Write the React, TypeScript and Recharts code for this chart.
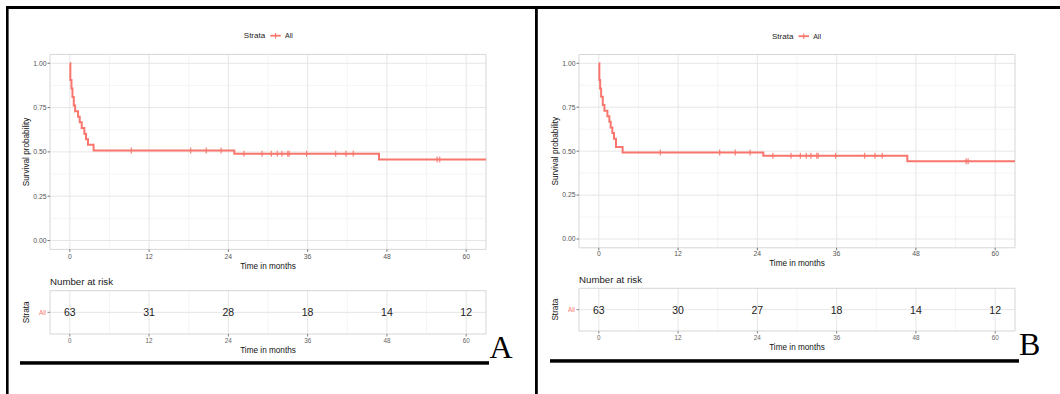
import React from 'react';
import { ComposedChart, Line, Scatter, XAxis, YAxis, CartesianGrid, ReferenceArea } from 'recharts';

const FONT = '"Liberation Sans", Arial, Helvetica, sans-serif';
const RED = '#F8766D';

// ---- shared tick labels ----
const timeTicks = [0, 12, 24, 36, 48, 60];
const timeMinor = [6, 18, 30, 42, 54];
const survTicks = [0, 0.25, 0.5, 0.75, 1];
const survMinor = [0.125, 0.375, 0.625, 0.875];
const strataLabels = ['All'];

// ---- panel A: Kaplan-Meier step function ----
const stepTimesA = [0, 0.08, 0.25, 0.4, 0.6, 0.8, 1.25, 1.5, 1.8, 2.2, 2.45, 2.75, 3.6, 24.9, 46.8];
const stepSurvA = [1, 0.905, 0.857, 0.81, 0.762, 0.73, 0.698, 0.667, 0.635, 0.603, 0.571, 0.54, 0.508, 0.49, 0.457];
const censorTimesA = [9.3, 18.3, 20.65, 22.9, 26.35, 29.1, 30.5, 31.4, 32.1, 33.0, 33.2, 35.85, 40.25, 41.8, 42.9, 55.6, 56.0];
const riskA = [63, 31, 28, 18, 14, 12];

// ---- panel B ----
const stepTimesB = [0, 0.08, 0.2, 0.35, 0.6, 0.85, 1.3, 1.6, 1.8, 2.05, 2.3, 2.6, 3.6, 24.9, 46.7];
const stepSurvB = [1, 0.905, 0.857, 0.81, 0.762, 0.73, 0.698, 0.667, 0.635, 0.603, 0.571, 0.524, 0.492, 0.474, 0.442];
const censorTimesB = [9.3, 18.3, 20.65, 22.9, 26.35, 29.1, 30.5, 31.4, 32.1, 33.0, 33.2, 35.85, 40.25, 41.8, 42.9, 55.6, 55.9];
const riskB = [63, 30, 27, 18, 14, 12];

const followUpEnd = 63;
const X_DOMAIN: [number, number] = [-3, 63];
const Y_DOMAIN: [number, number] = [-0.05, 1.05];

function buildSteps(times: number[], surv: number[]) {
  const pts = times.map((t, i) => ({ t, s: surv[i] }));
  pts.push({ t: followUpEnd, s: surv[surv.length - 1] });
  return pts;
}
function survAt(times: number[], surv: number[], t: number) {
  let s = surv[0];
  for (let i = 0; i < times.length; i++) if (times[i] <= t) s = surv[i];
  return s;
}
function buildCensor(ct: number[], times: number[], surv: number[]) {
  return ct.map((t) => ({ t, s: survAt(times, surv, t) }));
}
function buildRisk(r: number[]) {
  return timeTicks.map((t, i) => ({ t, y: 1, n: r[i] }));
}

const PlusShape = (props: any) => {
  const { cx, cy } = props;
  if (cx == null || cy == null) return null;
  return (
    <path
      d={`M${cx - 2.5},${cy}H${cx + 2.5}M${cx},${cy - 3}V${cy + 3}`}
      stroke={RED}
      strokeWidth={1.1}
      fill="none"
    />
  );
};

const RiskText = (props: any) => {
  const { cx, cy, payload } = props;
  return (
    <text x={cx} y={cy} textAnchor="middle" dominantBaseline="central" fontSize={10.5} fill="#1a1a1a" fontFamily={FONT}>
      {payload.n}
    </text>
  );
};

const yTitle = (text: string, dx: number) => (p: any) => {
  const vb = p.viewBox || {};
  const cx = vb.x + vb.width - dx;
  const cy = vb.y + vb.height / 2;
  return (
    <text x={cx} y={cy} transform={`rotate(-90 ${cx} ${cy})`} textAnchor="middle" dominantBaseline="central" fontSize={8.2} fill="#111" fontFamily={FONT}>
      {text}
    </text>
  );
};
const xTitle = (text: string, dy: number) => (p: any) => {
  const vb = p.viewBox || {};
  const cx = vb.x + vb.width / 2;
  const cy = vb.y + dy;
  return (
    <text x={cx} y={cy} textAnchor="middle" dominantBaseline="central" fontSize={8.2} fill="#111" fontFamily={FONT}>
      {text}
    </text>
  );
};

type SurvProps = {
  left: number; width: number; mLeft: number; mRight: number; mTop: number; mBottom: number;
  steps: { t: number; s: number }[]; censor: { t: number; s: number }[]; tickMargin: number; titleDy: number;
};

function SurvivalPlot(p: SurvProps) {
  const height = 280;
  return (
    <div style={{ position: 'absolute', left: p.left, top: 0 }}>
      <ComposedChart width={p.width} height={height} margin={{ left: p.mLeft, right: p.mRight, top: p.mTop, bottom: p.mBottom }}>
        <CartesianGrid verticalValues={timeMinor} horizontalValues={survMinor} stroke="#F3F3F3" strokeWidth={0.8} />
        <CartesianGrid verticalValues={timeTicks} horizontalValues={survTicks} stroke="#E6E6E6" strokeWidth={1} />
        <XAxis
          type="number" dataKey="t" domain={X_DOMAIN} ticks={timeTicks} allowDataOverflow
          axisLine={false} tickSize={2.5} tickMargin={p.tickMargin} height={20}
          tick={{ fontSize: 6.8, fill: '#555', fontFamily: FONT }} tickLine={{ stroke: '#777' }}
          label={{ content: xTitle('Time in months', p.titleDy) } as any}
        />
        <YAxis
          type="number" dataKey="s" domain={Y_DOMAIN} ticks={survTicks} allowDataOverflow
          axisLine={false} tickSize={2.5} tickMargin={1} width={30}
          tickFormatter={(v: number) => v.toFixed(2)}
          tick={{ fontSize: 6.8, fill: '#555', fontFamily: FONT }} tickLine={{ stroke: '#777' }}
          label={{ content: yTitle('Survival probability', 23) } as any}
        />
        <ReferenceArea x1={X_DOMAIN[0]} x2={X_DOMAIN[1]} y1={Y_DOMAIN[0]} y2={Y_DOMAIN[1]} fill="none" fillOpacity={0} stroke="#D6D6D6" strokeWidth={1} ifOverflow="visible" />
        <Line data={p.steps} dataKey="s" type="stepAfter" stroke={RED} strokeWidth={2} dot={false} activeDot={false} isAnimationActive={false} />
        <Scatter data={p.censor} dataKey="s" shape={<PlusShape />} isAnimationActive={false} />
      </ComposedChart>
    </div>
  );
}

type RiskProps = {
  left: number; width: number; mLeft: number; mRight: number; mTop: number; mBottom: number;
  data: { t: number; y: number; n: number }[]; tickMargin: number; titleDy: number;
};

function RiskTable(p: RiskProps) {
  const height = 95;
  return (
    <div style={{ position: 'absolute', left: p.left, top: 270 }}>
      <ComposedChart width={p.width} height={height} margin={{ left: p.mLeft, right: p.mRight, top: p.mTop, bottom: p.mBottom }}>
        <CartesianGrid verticalValues={timeMinor} horizontal={false} stroke="#F3F3F3" strokeWidth={0.8} />
        <CartesianGrid verticalValues={timeTicks} horizontalValues={[1]} stroke="#E6E6E6" strokeWidth={1} />
        <XAxis
          type="number" dataKey="t" domain={X_DOMAIN} ticks={timeTicks} allowDataOverflow
          axisLine={false} tickSize={2.5} tickMargin={p.tickMargin} height={24}
          tick={{ fontSize: 6.3, fill: '#666', fontFamily: FONT }} tickLine={{ stroke: '#888' }}
          label={{ content: xTitle('Time in months', p.titleDy) } as any}
        />
        <YAxis
          type="number" dataKey="y" domain={[0, 2]} ticks={[1]} allowDataOverflow
          axisLine={false} tickSize={2.5} tickMargin={1.5} width={30}
          tickFormatter={() => strataLabels[0]}
          tick={{ fontSize: 6.3, fill: RED, fontFamily: FONT }} tickLine={{ stroke: '#888' }}
          label={{ content: yTitle('Strata', 23.5) } as any}
        />
        <ReferenceArea x1={X_DOMAIN[0]} x2={X_DOMAIN[1]} y1={0} y2={2} fill="none" fillOpacity={0} stroke="#D6D6D6" strokeWidth={1} ifOverflow="visible" />
        <Scatter data={p.data} dataKey="y" shape={<RiskText />} isAnimationActive={false} />
      </ComposedChart>
    </div>
  );
}

function LegendKey({ x, y }: { x: number; y: number }) {
  return (
    <g>
      <text x={x} y={y} dominantBaseline="central" fontSize={8} fill="#222" fontFamily={FONT}>Strata</text>
      <line x1={x + 26.5} x2={x + 37} y1={y} y2={y} stroke={RED} strokeWidth={1.8} />
      <line x1={x + 31.75} x2={x + 31.75} y1={y - 2.8} y2={y + 2.8} stroke={RED} strokeWidth={1.1} />
      <text x={x + 41.2} y={y} dominantBaseline="central" fontSize={7} fill="#222" fontFamily={FONT}>All</text>
    </g>
  );
}

export default function App() {
  return (
    <div style={{ position: 'absolute', left: 0, top: 0, width: 1060, height: 394, background: '#fff', overflow: 'hidden' }}>
      <SurvivalPlot left={0} width={536} mLeft={20} mRight={50} mTop={54.4} mBottom={10.6}
        steps={buildSteps(stepTimesA, stepSurvA)} censor={buildCensor(censorTimesA, stepTimesA, stepSurvA)} tickMargin={2.3} titleDy={16.6} />
      <RiskTable left={0} width={536} mLeft={20} mRight={50} mTop={20.7} mBottom={7} data={buildRisk(riskA)} tickMargin={2} titleDy={16} />

      <SurvivalPlot left={536} width={524} mLeft={13} mRight={45} mTop={54.5} mBottom={12.2}
        steps={buildSteps(stepTimesB, stepSurvB)} censor={buildCensor(censorTimesB, stepTimesB, stepSurvB)} tickMargin={1.2} titleDy={15.5} />
      <RiskTable left={536} width={524} mLeft={13} mRight={45} mTop={18.3} mBottom={10} data={buildRisk(riskB)} tickMargin={2.5} titleDy={16.3} />

      <svg width={1060} height={394} style={{ position: 'absolute', left: 0, top: 0, pointerEvents: 'none' }}>
        <LegendKey x={243.8} y={35.7} />
        <LegendKey x={772} y={36.2} />
        <text x={50} y={281.7} dominantBaseline="central" fontSize={9.7} fill="#1a1a1a" fontFamily={FONT}>Number at risk</text>
        <text x={579} y={279.3} dominantBaseline="central" fontSize={9.7} fill="#1a1a1a" fontFamily={FONT}>Number at risk</text>
        {/* frame */}
        <rect x={6} y={6} width={1054} height={3} fill="#000" />
        <rect x={6} y={6} width={2.6} height={388} fill="#000" />
        <rect x={535} y={6} width={2.8} height={388} fill="#000" />
        <rect x={20} y={361.2} width={469} height={3.5} fill="#000" />
        <rect x={550} y={359.2} width={469} height={3.5} fill="#000" />
        <text x={489.5} y={358.3} fontSize={32} fill="#000" fontFamily='"Liberation Serif", "Times New Roman", serif'>A</text>
        <text x={1019} y={355} fontSize={32} fill="#000" fontFamily='"Liberation Serif", "Times New Roman", serif'>B</text>
      </svg>
    </div>
  );
}
